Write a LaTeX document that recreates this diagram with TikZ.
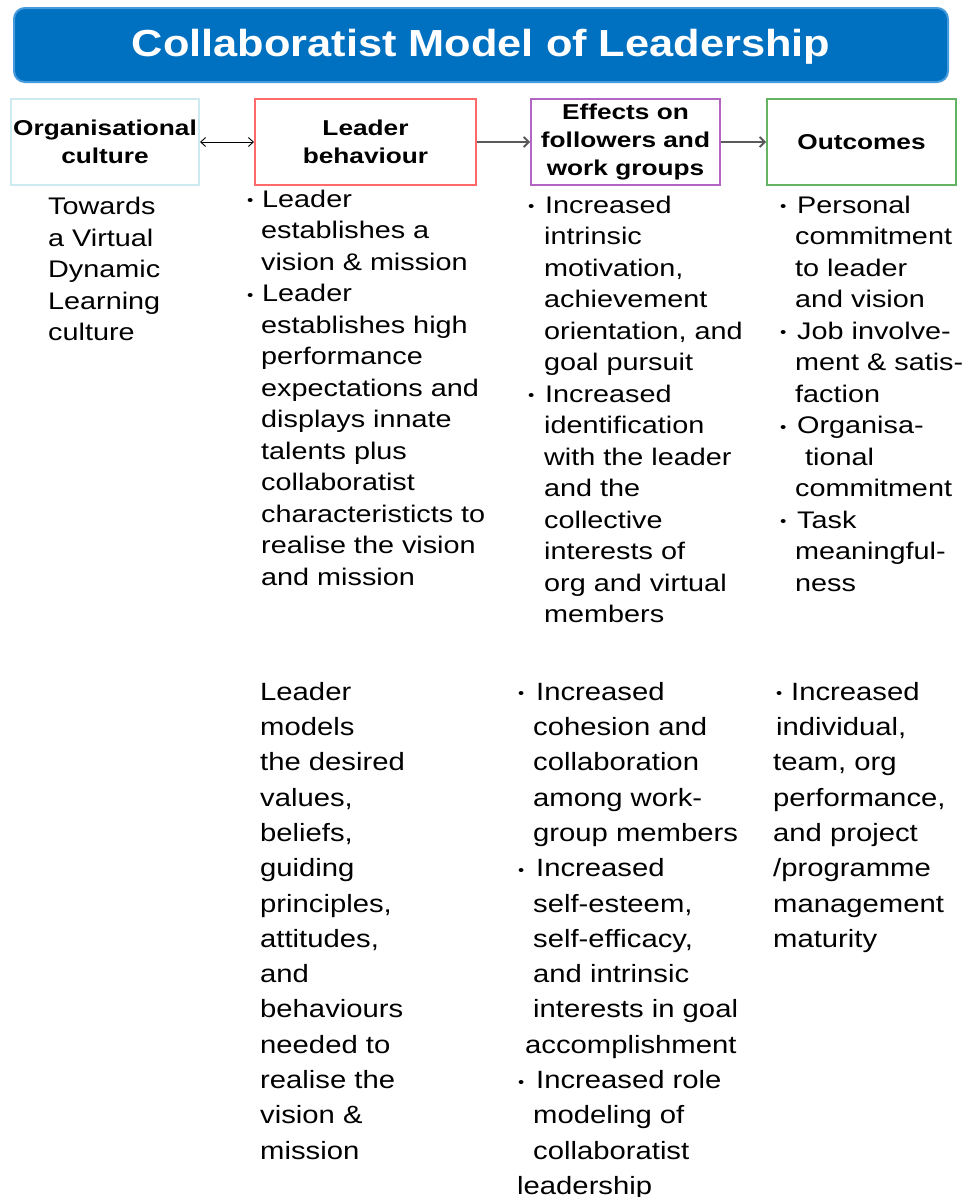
\documentclass[tikz,border=0pt]{standalone}
\usepackage{fontspec}
\setmainfont{Liberation Sans}
\newfontfamily\upfont[FakeStretch=1.2]{Liberation Sans}
\newfontfamily\lowfont[FakeStretch=1.17]{Liberation Sans}
\newfontfamily\headfont[FakeStretch=1.22]{Liberation Sans}
\newfontfamily\titlefont[FakeStretch=1.15]{Liberation Sans}
\usetikzlibrary{arrows.meta}

\definecolor{banner}{RGB}{0,112,192}
\definecolor{banneredge}{RGB}{70,155,220}
\definecolor{orgc}{RGB}{205,234,240}
\definecolor{leadc}{RGB}{255,105,105}
\definecolor{effc}{RGB}{180,100,195}
\definecolor{outc}{RGB}{100,180,100}
\definecolor{arrowgray}{RGB}{90,90,90}

\newcommand{\smbul}{\raisebox{1.5pt}{\fontsize{15}{15}\selectfont •}}
\newcommand{\bu}[1]{\makebox[#1][l]{\smbul}}
\newcommand{\ind}[1]{\hspace*{#1}}

\begin{document}
\begin{tikzpicture}[x=1pt,y=-1pt,
  headbox/.style={draw, line width=2pt, minimum height=86pt, inner sep=0pt,
    align=center, font=\headfont\bfseries\fontsize{21.5}{28}\selectfont},
  uppertext/.style={anchor=north west, inner sep=0pt, align=left,
    font=\upfont\fontsize{24}{31.5}\selectfont},
  lowertext/.style={anchor=north west, inner sep=0pt, align=left,
    font=\lowfont\fontsize{25}{35.3}\selectfont},
  thinarrow/.style={line width=0.9pt, {Straight Barb[length=5pt,width=9pt]}-{Straight Barb[length=5pt,width=9pt]}},
  grayarrow/.style={draw=arrowgray, line width=1.8pt, -{Straight Barb[length=5pt,width=10pt]}}
]
\useasboundingbox (0,0) rectangle (970,1197);
\fill[white] (0,0) rectangle (970,1197);

% banner
\node[fill=banner, draw=banneredge, line width=2pt, rounded corners=11pt,
  minimum width=934pt, minimum height=74pt, inner sep=0pt] (banner) at (481,45) {};
\node[anchor=base, text=white, inner sep=0pt,
  font=\titlefont\bfseries\fontsize{37.7}{40}\selectfont] (title) at (481,56)
  {Collaboratist Model of Leadership};

% header boxes
\node[headbox, draw=orgc, minimum width=188pt] (org) at (105,142) {Organisational\\culture};
\node[headbox, draw=leadc, minimum width=221pt] (lead) at (365.5,142) {Leader\\behaviour};
\node[headbox, draw=effc, minimum width=189pt] (eff) at (625.5,142) {Effects on\\followers and\\work groups};
\node[headbox, draw=outc, minimum width=189pt] (out) at (861.5,142) {Outcomes};

% connectors
\draw[thinarrow] (org.east) -- (lead.west);
\draw[grayarrow] (lead.east) -- (eff.west);
\draw[grayarrow] (eff.east) -- (out.west);

% upper texts
\node[uppertext] (culture) at (48,192.45)
  {\strut Towards\\a Virtual\\Dynamic\\Learning\\culture};

\node[uppertext] (leadtext) at (247,184.95)
  {\strut\bu{15pt}Leader\\
   \ind{14pt}establishes a\\
   \ind{14pt}vision \& mission\\
   \bu{15pt}Leader\\
   \ind{14pt}establishes high\\
   \ind{14pt}performance\\
   \ind{14pt}expectations and\\
   \ind{14pt}displays innate\\
   \ind{14pt}talents plus\\
   \ind{14pt}collaboratist\\
   \ind{14pt}characteristicts to\\
   \ind{14pt}realise the vision\\
   \ind{14pt}and mission};

\node[uppertext] (efftext) at (528,190.95)
  {\strut\bu{17pt}Increased\\
   \ind{16pt}intrinsic\\
   \ind{16pt}motivation,\\
   \ind{16pt}achievement\\
   \ind{16pt}orientation, and\\
   \ind{16pt}goal pursuit\\
   \bu{17pt}Increased\\
   \ind{16pt}identification\\
   \ind{16pt}with the leader\\
   \ind{16pt}and the\\
   \ind{16pt}collective\\
   \ind{16pt}interests of\\
   \ind{16pt}org and virtual\\
   \ind{16pt}members};

\node[uppertext] (outtext) at (780,190.95)
  {\strut\bu{17pt}Personal\\
   \ind{15pt}commitment\\
   \ind{15pt}to leader\\
   \ind{15pt}and vision\\
   \bu{17pt}Job involve-\\
   \ind{15pt}ment \& satis-\\
   \ind{15pt}faction\\
   \bu{17pt}Organisa-\\
   \ind{25pt}tional\\
   \ind{15pt}commitment\\
   \bu{17pt}Task\\
   \ind{15pt}meaningful-\\
   \ind{15pt}ness};

% lower texts
\node[lowertext] (models) at (260,675.3)
  {\strut Leader\\models\\the desired\\values,\\beliefs,\\guiding\\principles,\\attitudes,\\and\\behaviours\\needed to\\realise the\\vision \&\\mission};

\node[lowertext] (efflow) at (517,675.3)
  {\strut\ind{1pt}\bu{18pt}Increased\\
   \ind{16pt}cohesion and\\
   \ind{16pt}collaboration\\
   \ind{16pt}among work-\\
   \ind{16pt}group members\\
   \ind{1pt}\bu{18pt}Increased\\
   \ind{16pt}self-esteem,\\
   \ind{16pt}self-efficacy,\\
   \ind{16pt}and intrinsic\\
   \ind{16pt}interests in goal\\
   \ind{8pt}accomplishment\\
   \ind{1pt}\bu{18pt}Increased role\\
   \ind{16pt}modeling of\\
   \ind{16pt}collaboratist\\
   leadership};

\node[lowertext] (outlow) at (773,675.3)
  {\strut\ind{3pt}\bu{15pt}Increased\\
   \ind{3pt}individual,\\
   team, org\\
   performance,\\
   and project\\
   /programme\\
   management\\
   maturity};
\end{tikzpicture}
\end{document}
